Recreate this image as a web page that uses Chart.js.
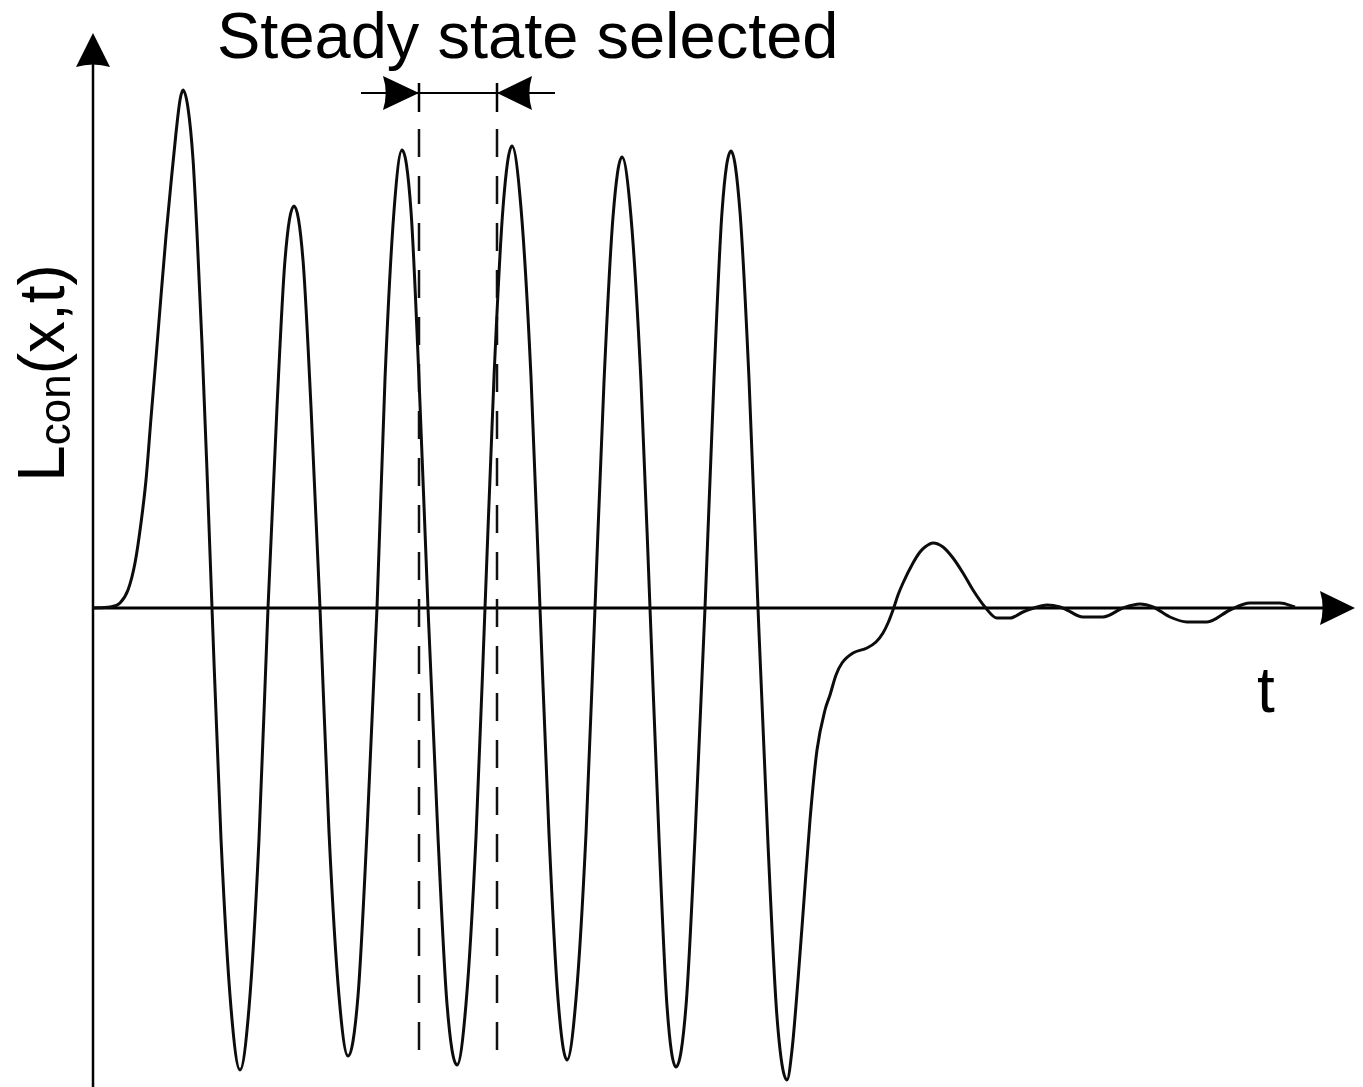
<!DOCTYPE html>
<html>
<head>
<meta charset="utf-8">
<script src="https://cdn.jsdelivr.net/npm/chart.js@4/dist/chart.umd.min.js"></script>
<style>
  html, body { margin: 0; padding: 0; background: #fff; }
  canvas { display: block; }
</style>
</head>
<body>
<canvas id="lcon" width="1363" height="1087"></canvas>
<script>
// time axis samples and L_con(x,t) response
const timeVals = [
  0, 17, 27, 35, 42, 48, 53, 58, 63, 68, 73, 78, 83, 87, 90, 95, 100, 104, 109, 114,
  119, 128, 138, 147, 156, 166, 175, 184, 192, 201, 210, 218, 227, 236, 246, 255,
  265, 274, 284, 292, 301, 309, 318, 326, 335, 345, 354, 364, 373, 383, 392, 401,
  410, 419, 428, 438, 447, 456, 465, 474, 483, 493, 502, 511, 520, 529, 538, 548,
  557, 566, 574, 583, 593, 602, 612, 621, 629, 638, 647, 656, 665, 675, 684, 694,
  699, 705, 711, 717, 724, 732, 737, 743, 749, 760, 774, 783, 790, 795, 800, 805,
  810, 820, 827, 832, 840, 850, 860, 870, 880, 892, 904, 917, 930, 944, 954, 967,
  974, 990, 1010, 1030, 1047, 1060, 1077, 1094, 1114, 1137, 1157, 1187, 1202
];
const lconVals = [
  0, 1, 5, 18, 45, 85, 128, 190, 250, 312, 372, 425, 475, 508, 518, 500, 449, 375, 264, 137,
  0, -231, -400, -462, -400, -231, 0, 201, 348, 402, 348, 201, 0, -224, -388, -448,
  -388, -224, 0, 229, 397, 458, 397, 229, 0, -229, -396, -457, -396, -229, 0, 231,
  400, 462, 400, 231, 0, -226, -391, -452, -391, -226, 0, 226, 391, 451, 391, 226,
  0, -230, -398, -459, -398, -230, 0, 229, 396, 457, 396, 229, 0, -236, -409, -472,
  -442, -372, -292, -212, -142, -102, -87, -67, -55, -45, -40, -34, -25, -15, -2, 13,
  25, 45, 56, 61, 65, 61, 50, 35, 18, 1, -10, -10, -4, 1, 3, 1,
  -2, -9, -9, 0, 4, 1, -9, -14, -14, -2, 5, 5, 1
];

// selected steady-state window (time units)
const steadyWindow = [326, 404];
const dashTop = 479, dashBottom = -442;

const tMax = 1262, lMin = -479, lMax = 575;
const FONT = '"Liberation Sans", Arial, Helvetica, sans-serif';

function arrowHead(ctx, tipX, tipY, dir, len, half) {
  // dir: unit vector pointing toward the tip
  const [dx, dy] = dir;
  const bx = tipX - dx * len, by = tipY - dy * len;
  const nx = -dy, ny = dx;
  const notchX = tipX - dx * len * 0.85, notchY = tipY - dy * len * 0.85;
  ctx.beginPath();
  ctx.moveTo(tipX, tipY);
  ctx.lineTo(bx + nx * half, by + ny * half);
  ctx.quadraticCurveTo(notchX, notchY, bx - nx * half, by - ny * half);
  ctx.closePath();
  ctx.fill();
}

const decorations = {
  id: 'decorations',
  beforeDatasetsDraw(chart) {
    const { ctx, chartArea, scales: { x, y } } = chart;
    const x0 = x.getPixelForValue(0);
    const y0 = y.getPixelForValue(0);
    ctx.save();
    ctx.strokeStyle = '#000';
    ctx.fillStyle = '#000';
    // vertical axis
    ctx.lineWidth = 2.5;
    ctx.beginPath();
    ctx.moveTo(x0, chartArea.bottom);
    ctx.lineTo(x0, chartArea.top + 30);
    ctx.stroke();
    arrowHead(ctx, x0, chartArea.top, [0, -1], 34, 17);
    // horizontal axis
    ctx.lineWidth = 3;
    ctx.beginPath();
    ctx.moveTo(x0, y0);
    ctx.lineTo(chartArea.right - 30, y0);
    ctx.stroke();
    arrowHead(ctx, chartArea.right, y0, [1, 0], 35, 17);
    ctx.restore();
  },
  afterDatasetsDraw(chart) {
    const { ctx, chartArea, scales: { x, y } } = chart;
    const xa = x.getPixelForValue(steadyWindow[0]);
    const xb = x.getPixelForValue(steadyWindow[1]);
    const ya = y.getPixelForValue(515);
    ctx.save();
    ctx.strokeStyle = '#000';
    ctx.fillStyle = '#000';
    // window marker: arrows pointing inwards to the bounds
    ctx.lineWidth = 2.2;
    ctx.beginPath();
    ctx.moveTo(xa - 58, ya);
    ctx.lineTo(xb + 58, ya);
    ctx.stroke();
    ctx.lineWidth = 2.5;
    ctx.beginPath();
    ctx.moveTo(xa, ya - 10); ctx.lineTo(xa, ya + 19);
    ctx.moveTo(xb, ya - 10); ctx.lineTo(xb, ya + 19);
    ctx.stroke();
    arrowHead(ctx, xa, ya, [1, 0], 36, 17);
    arrowHead(ctx, xb, ya, [-1, 0], 35, 17);

    // labels
    ctx.textBaseline = 'alphabetic';
    ctx.textAlign = 'left';
    ctx.font = '65px ' + FONT;
    ctx.fillText('Steady state selected', chartArea.left + 124, 58);
    ctx.font = '64px ' + FONT;
    ctx.fillText('t', chartArea.left + 1164, 712);

    ctx.translate(64, 482);
    ctx.rotate(-Math.PI / 2);
    ctx.font = '66px ' + FONT;
    ctx.fillText('L', 0, 0);
    let off = ctx.measureText('L').width;
    ctx.font = '44px ' + FONT;
    ctx.fillText('con', off, 6);
    off += ctx.measureText('con').width;
    ctx.font = '64px ' + FONT;
    ctx.fillText('(x,t)', off, 0);
    ctx.restore();
  }
};

const dashStyle = {
  borderColor: '#111',
  borderWidth: 2.5,
  borderDash: [28, 19],
  pointRadius: 0,
  fill: false
};

new Chart(document.getElementById('lcon'), {
  type: 'line',
  data: {
    datasets: [
      {
        label: 'Lcon(x,t)',
        data: timeVals.map((t, i) => ({ x: t, y: lconVals[i] })),
        borderColor: '#0c0c0c',
        borderWidth: 3,
        pointRadius: 0,
        cubicInterpolationMode: 'monotone',
        fill: false
      },
      Object.assign({ data: [{ x: steadyWindow[0], y: dashTop }, { x: steadyWindow[0], y: dashBottom }] }, dashStyle),
      Object.assign({ data: [{ x: steadyWindow[1], y: dashTop }, { x: steadyWindow[1], y: dashBottom }] }, dashStyle)
    ]
  },
  options: {
    responsive: false,
    animation: false,
    parsing: false,
    layout: { padding: { left: 93, right: 8, top: 33, bottom: 0 } },
    plugins: { legend: { display: false }, tooltip: { enabled: false } },
    scales: {
      x: { type: 'linear', min: 0, max: tMax, display: false },
      y: { type: 'linear', min: lMin, max: lMax, display: false }
    }
  },
  plugins: [decorations]
});
</script>
</body>
</html>
